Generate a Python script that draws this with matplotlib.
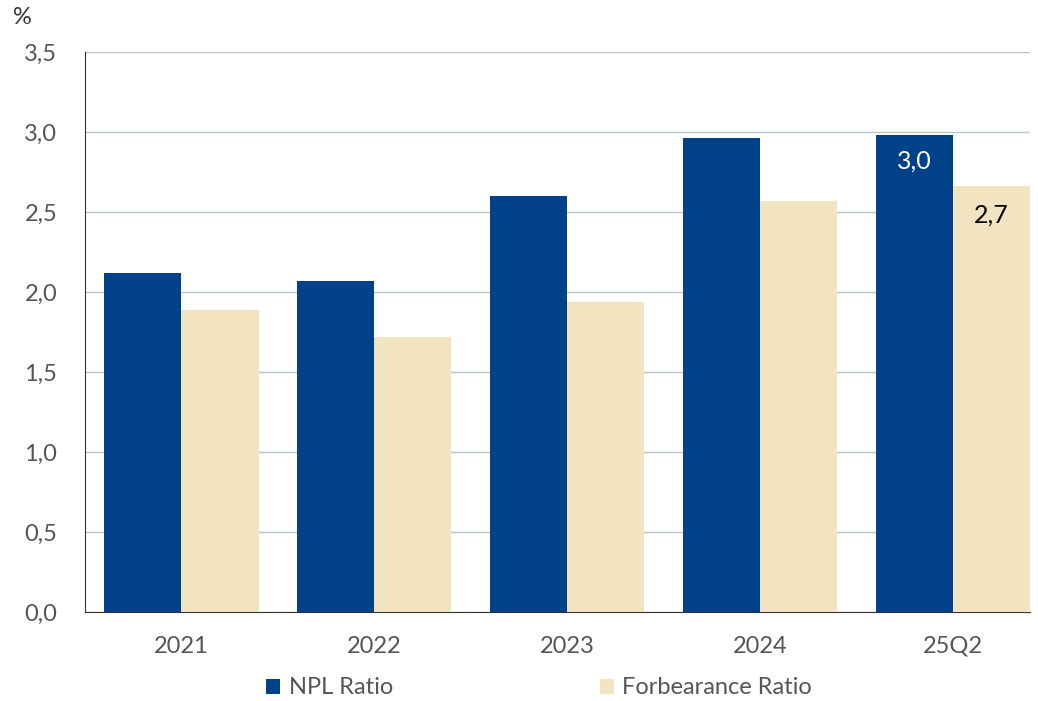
import numpy as np
import matplotlib.pyplot as plt

plt.rcParams['font.family'] = ['Lato', 'DejaVu Sans']

years = ['2021', '2022', '2023', '2024', '25Q2']
npl_ratio = [2.12, 2.07, 2.60, 2.96, 2.98]
forbearance_ratio = [1.89, 1.72, 1.94, 2.57, 2.66]
y_ticks = [0.0, 0.5, 1.0, 1.5, 2.0, 2.5, 3.0, 3.5]

npl_color = '#00418A'
forb_color = '#F2E4C0'
text_gray = '#555555'

fig = plt.figure(figsize=(10.38, 7.01), dpi=100)
ax = fig.add_axes([85 / 1038, 1 - 612 / 701, (1030 - 85) / 1038, (612 - 52) / 701])

x = np.arange(len(years))
w = 0.4
ax.bar(x - w / 2, npl_ratio, width=w, color=npl_color, label='NPL Ratio', zorder=3)
ax.bar(x + w / 2, forbearance_ratio, width=w, color=forb_color, label='Forbearance Ratio', zorder=3)

# value labels on the latest quarter
last = len(years) - 1
ax.text(x[last] - w / 2, npl_ratio[last] - 0.09, f'{npl_ratio[last]:.1f}'.replace('.', ','),
        ha='center', va='top', color='white', fontsize=18, zorder=4)
ax.text(x[last] + w / 2, forbearance_ratio[last] - 0.11, f'{forbearance_ratio[last]:.1f}'.replace('.', ','),
        ha='center', va='top', color='black', fontsize=18, zorder=4)

ax.set_xlim(-0.5, 4.4)
ax.set_ylim(0, 3.5)
ax.set_yticks(y_ticks)
ax.set_yticklabels([f'{v:.1f}'.replace('.', ',') for v in y_ticks])
ax.set_xticks(x)
ax.set_xticklabels(years)
ax.tick_params(axis='both', length=0, labelsize=17, labelcolor=text_gray)
ax.tick_params(axis='y', pad=20)
ax.tick_params(axis='x', pad=17)

ax.yaxis.grid(True, color='#B9C5CD', linewidth=1, zorder=0)
ax.set_axisbelow(True)
for s in ['top', 'right']:
    ax.spines[s].set_visible(False)
ax.spines['left'].set_color('#333333')
ax.spines['bottom'].set_color('#333333')

fig.text(13 / 1038, 1 - 18 / 701, '%', fontsize=17, color='#333333', va='center')

fig.legend(loc='center', bbox_to_anchor=(539 / 1038, 1 - 688 / 701), ncol=2, frameon=False,
           fontsize=17, labelcolor=text_gray, handlelength=0.6, handleheight=0.6,
           handletextpad=0.35, columnspacing=8.75)

fig.savefig('out.png', dpi=100)
